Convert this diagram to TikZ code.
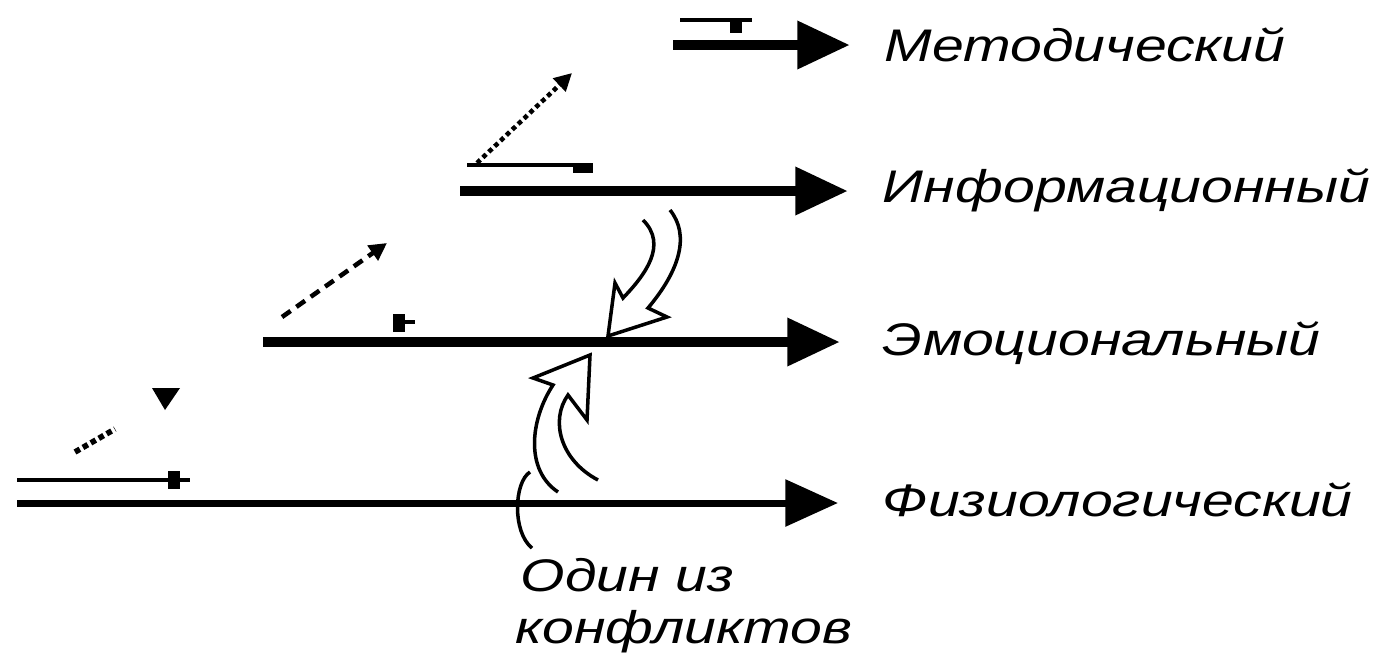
\documentclass[tikz,border=0pt]{standalone}
\usepackage{fontspec}
\setmainfont{Liberation Sans}[FakeStretch=1.25]
\usetikzlibrary{arrows.meta}
\begin{document}
\begin{tikzpicture}[x=0.01cm,y=-0.01cm,
  bigtip/.style={-{Triangle[length=15pt,width=13pt]}},
  mainline/.style={line width=3.1pt, bigtip},
  physline/.style={line width=2pt, bigtip},
  thinline/.style={line width=1.3pt},
  smalltip/.style={-{Triangle[length=5pt,width=5pt]}},
  hollow/.style={line width=1pt, line join=miter},
  lab/.style={anchor=west, inner sep=0pt, font=\fontsize{13}{16}\selectfont\itshape}]
\useasboundingbox (0,0) rectangle (1377,660);

% main lines
\coordinate (m1) at (673,45);  \coordinate (m2) at (850,45);
\coordinate (i1) at (460,191); \coordinate (i2) at (848,191);
\coordinate (e1) at (263,342); \coordinate (e2) at (840,342);
\coordinate (f1) at (17,503);  \coordinate (f2) at (838,503);
\draw[mainline] (m1) -- (m2);
\draw[mainline] (i1) -- (i2);
\draw[mainline] (e1) -- (e2);
\draw[physline] (f1) -- (f2);

% labels
\node[lab] (lm) at (884,45)  {Методический};
\node[lab] (li) at (882,190) {Информационный};
\node[lab] (le) at (882,343) {Эмоциональный};
\node[lab] (lf) at (882,500) {Физиологический};
\node[lab] (lc1) at (520,575) {Один из};
\node[lab] (lc2) at (515,632) {конфликтов};

% Методический small line
\coordinate (ms1) at (680,20); \coordinate (ms2) at (752,20);
\draw[thinline] (ms1) -- (ms2);
\fill (730,20) rectangle (742,33);

% Информационный small lines
\coordinate (is1) at (467,165); \coordinate (is2) at (593,165);
\draw[thinline] (is1) -- (is2);
\fill (573,164) rectangle (593,173);
\coordinate (id1) at (477,163); \coordinate (id2) at (572,73);
\draw[densely dotted, line width=1.3pt, smalltip] (id1) -- (id2);

% Эмоциональный small marks
\fill (393,314) rectangle (405,332);
\draw[thinline] (405,322) -- (415,322);
\coordinate (ed1) at (282,317); \coordinate (ed2) at (387,243);
\draw[densely dashed, line width=1.3pt, smalltip] (ed1) -- (ed2);

% Физиологический small marks
\coordinate (fs1) at (17,480); \coordinate (fs2) at (190,480);
\draw[thinline] (fs1) -- (fs2);
\fill (168,471) rectangle (180,489);
\draw[densely dotted, line width=1.6pt] (75,452) -- (115,429);
\fill (152,388) -- (180,388) -- (165,410) -- cycle;

% upper hollow curved arrow
\draw[hollow] (670,210) .. controls (690,235) and (680,270) .. (648,308)
  -- (667,317) -- (608,336) -- (615,283) -- (623,298)
  .. controls (645,275) and (668,245) .. (643,220);

% lower hollow curved arrow
\draw[hollow] (598,480) .. controls (560,460) and (550,420) .. (568,395)
  -- (587,420) -- (590,355) -- (533,378) -- (553,385)
  .. controls (530,420) and (525,470) .. (558,492);

% bracket
\draw[line width=1pt] (530,472) .. controls (514,482) and (512,532) .. (532,548);
\end{tikzpicture}
\end{document}
